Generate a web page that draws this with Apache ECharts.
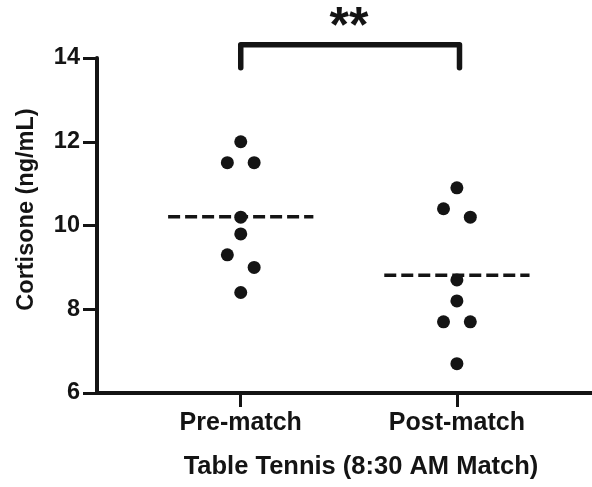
<!DOCTYPE html>
<html>
<head>
<meta charset="utf-8">
<style>html,body{margin:0;padding:0;background:#fff;}#chart{width:592px;height:487px;}</style>
<script src="https://cdn.jsdelivr.net/npm/echarts@6/dist/echarts.min.js"></script>
</head>
<body>
<div id="chart"></div>
<script>
// ---- data ----
const categories = ['Pre-match', 'Post-match'];
const categoryPositions = [1, 2];
const yTicks = [6, 8, 10, 12, 14];
// [x (category position with dot-plot spread), cortisone ng/mL]
const prePoints = [[1, 12.0], [0.938, 11.5], [1.062, 11.5], [1, 10.2], [1, 9.8], [0.938, 9.3], [1.062, 9.0], [1, 8.4]];
const postPoints = [[2, 10.9], [1.938, 10.4], [2.062, 10.2], [2, 8.7], [2, 8.2], [1.938, 7.7], [2.062, 7.7], [2, 6.7]];
const groupMeans = [10.21, 8.81];
const meanHalfWidth = 0.336;
const bracketX = [1, 2.012];
const bracketY = [13.77, 14.315];
const significance = '**';
const xTitle = 'Table Tennis (8:30 AM Match)';
const yTitle = 'Cortisone (ng/mL)';

const ink = '#141414';
const font = '"Liberation Sans", Arial, Helvetica, sans-serif';

const meanSeries = groupMeans.map((m, i) => ({
  type: 'line',
  data: [[categoryPositions[i] - meanHalfWidth, m], [categoryPositions[i] + meanHalfWidth, m]],
  symbol: 'none',
  lineStyle: { color: ink, width: 3.5, type: [12, 5] },
  silent: true,
  z: 2
}));

const chart = echarts.init(document.getElementById('chart'), null, { renderer: 'canvas' });
chart.setOption({
  animation: false,
  backgroundColor: '#fff',
  grid: { left: 97, right: 0, top: 58, bottom: 94 },
  xAxis: {
    type: 'value',
    min: 0.335,
    max: 2.625,
    name: xTitle,
    nameLocation: 'middle',
    nameGap: 61,
    nameTextStyle: { fontFamily: font, fontWeight: 'bold', fontSize: 25.5, color: ink, padding: [0, 0, 0, 33] },
    axisLine: { lineStyle: { color: ink, width: 4 } },
    axisTick: { customValues: categoryPositions, length: 14, lineStyle: { color: ink, width: 3 } },
    axisLabel: {
      customValues: categoryPositions,
      formatter: v => categories[categoryPositions.indexOf(v)],
      margin: 18,
      fontFamily: font, fontWeight: 'bold', fontSize: 25, color: ink
    },
    splitLine: { show: false }
  },
  yAxis: {
    type: 'value',
    min: yTicks[0],
    max: yTicks[yTicks.length - 1],
    interval: 2,
    name: yTitle,
    nameLocation: 'middle',
    nameGap: 58,
    nameRotate: 90,
    nameTextStyle: { fontFamily: font, fontWeight: 'bold', fontSize: 23.5, color: ink, padding: [0, 0, 0, 32] },
    axisLine: { show: true, lineStyle: { color: ink, width: 4 } },
    axisTick: { show: true, length: 14, lineStyle: { color: ink, width: 3 } },
    axisLabel: { margin: 17, fontFamily: font, fontWeight: 'bold', fontSize: 23.5, color: ink },
    splitLine: { show: false }
  },
  series: [
    ...meanSeries,
    {
      type: 'scatter', data: prePoints, symbol: 'circle', symbolSize: 13,
      itemStyle: { color: ink, opacity: 1 }, z: 3
    },
    {
      type: 'scatter', data: postPoints, symbol: 'circle', symbolSize: 13,
      itemStyle: { color: ink, opacity: 1 }, z: 3
    },
    {
      type: 'line',
      data: [[bracketX[0], bracketY[0]], [bracketX[0], bracketY[1]], [bracketX[1], bracketY[1]], [bracketX[1], bracketY[0]]],
      symbol: 'none',
      clip: false,
      lineStyle: { color: ink, width: 5.5, cap: 'round', join: 'round' },
      silent: true,
      z: 4
    }
  ],
  graphic: [{
    type: 'text',
    x: 349, y: 28,
    style: { text: significance, fontFamily: font, fontWeight: 'bold', fontSize: 50, fill: ink, align: 'center', verticalAlign: 'middle' }
  }]
});
</script>
</body>
</html>
